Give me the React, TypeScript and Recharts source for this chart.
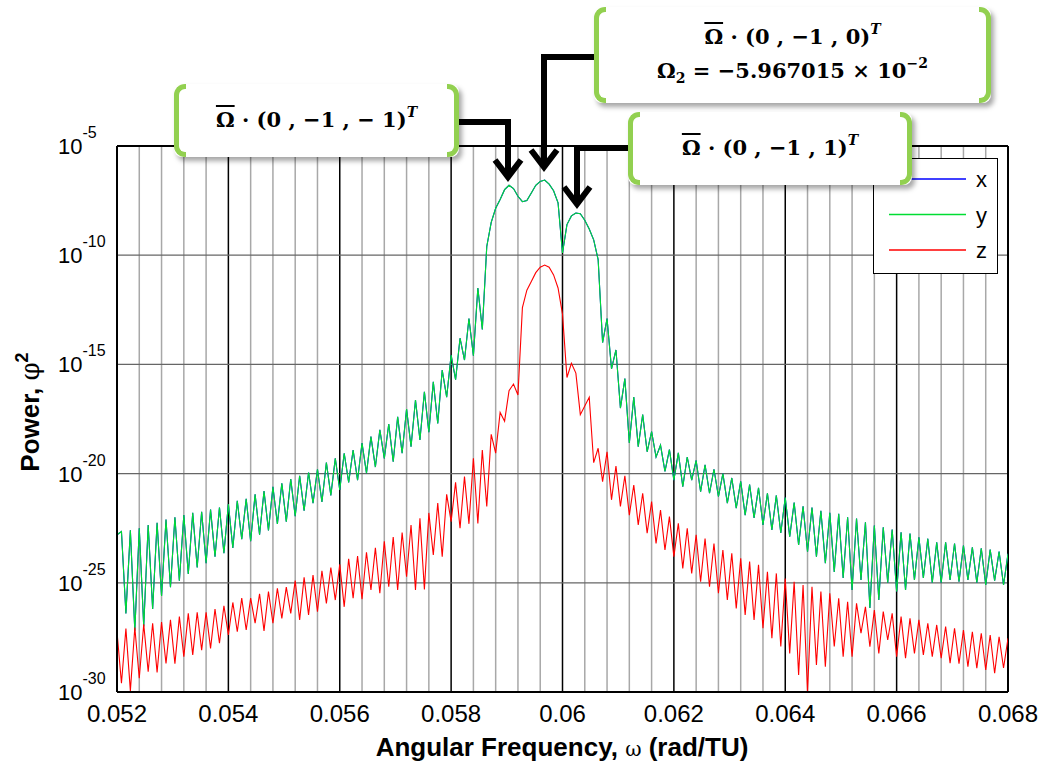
import React from 'react';
import { LineChart, Line, XAxis, YAxis, ReferenceLine } from 'recharts';

// Frequency grid (uniform FFT-like sampling, half an oscillation period per step)
const OMEGA_START = 0.052;
const OMEGA_STEP = 0.00008;

// log10(power), one value per grid step
const Y_LOG10 = [
  -22.8, -22.65, -26.4, -22.6, -27.2, -22.5, -27.0, -22.35, -26.2, -22.25,
  -25.6, -22.1, -25.2, -22.0, -24.9, -21.9, -24.6, -21.8, -24.3, -21.75,
  -24.1, -21.65, -23.8, -21.55, -23.65, -21.4, -23.4, -21.25, -23.0, -21.15,
  -23.1, -20.95, -22.8, -20.8, -22.6, -20.6, -22.3, -20.45, -22.2, -20.25,
  -21.95, -20.1, -21.7, -19.95, -21.35, -19.8, -21.3, -19.5, -21.0, -19.3,
  -20.75, -19.07, -20.4, -18.92, -20.3, -18.6, -19.98, -18.31, -19.7, -18.0,
  -19.3, -17.73, -19.45, -17.4, -19.07, -17.05, -18.77, -16.63, -18.46, -16.25,
  -18.1, -15.8, -17.7, -15.26, -16.5, -14.57, -15.7, -13.8, -14.8, -12.9,
  -14.6, -11.5, -13.4, -9.6, -8.5, -7.85, -7.45, -7.0, -6.8, -6.95,
  -7.3, -7.55, -7.5, -7.15, -6.8, -6.62, -6.56, -6.75, -7.05, -7.6,
  -9.9, -8.6, -8.2, -8.07, -8.1, -8.4, -8.8, -9.3, -10.2, -14.0,
  -12.9, -15.2, -14.34, -17.0, -15.65, -18.6, -16.5, -18.77, -17.3, -19.0,
  -18.08, -19.24, -18.7, -19.9, -18.9, -20.3, -19.05, -20.6, -19.24, -20.3,
  -19.4, -20.83, -19.6, -20.9, -19.8, -21.05, -20.0, -21.35, -20.2, -21.58,
  -20.35, -21.9, -20.5, -22.03, -20.65, -22.35, -20.9, -22.58, -21.0, -22.72,
  -21.1, -22.89, -21.33, -23.27, -21.5, -23.58, -21.55, -23.8, -21.7, -24.1,
  -21.8, -24.5, -21.84, -24.78, -22.0, -25.33, -22.06, -24.87, -22.23, -26.15,
  -22.38, -25.79, -22.46, -25.0, -22.56, -25.4, -22.69, -25.33, -22.75, -24.87,
  -22.92, -24.78, -22.98, -25.0, -23.15, -25.0, -23.15, -24.87, -23.2, -24.95,
  -23.3, -24.87, -23.38, -25.0, -23.42, -25.1, -23.48, -24.9, -23.57, -25.1,
  -23.67,
];

const Z_LOG10 = [
  -27.24, -29.6, -27.1, -29.95, -27.05, -29.37, -26.9, -29.07, -26.85, -29.1,
  -26.8, -28.69, -26.7, -28.7, -26.55, -28.38, -26.4, -28.3, -26.35, -28.08,
  -26.35, -28.0, -26.2, -27.77, -26.05, -27.39, -25.9, -27.24, -25.7, -27.16,
  -25.7, -26.85, -25.5, -27.2, -25.4, -26.85, -25.25, -26.63, -25.2, -26.4,
  -24.9, -26.7, -24.75, -26.47, -24.65, -26.32, -24.45, -25.94, -24.3, -25.79,
  -24.15, -26.1, -23.9, -25.71, -23.78, -25.75, -23.6, -25.33, -23.4, -25.48,
  -23.1, -25.18, -22.9, -25.33, -22.7, -24.72, -22.35, -25.33, -22.05, -25.3,
  -21.8, -23.73, -21.35, -23.8, -20.95, -22.2, -20.4, -22.5, -20.14, -22.3,
  -19.3, -22.28, -18.92, -21.5, -18.2, -19.06, -17.2, -17.6, -16.2, -15.9,
  -16.4, -12.4, -11.6, -11.2, -10.8, -10.55, -10.45, -10.55, -10.9, -11.5,
  -12.7, -15.6, -14.95, -15.4, -17.3, -16.9, -16.5, -19.5, -18.84, -20.37,
  -19.0, -21.2, -19.65, -21.5, -20.1, -21.9, -20.52, -22.35, -20.9, -22.73,
  -21.28, -23.2, -21.67, -23.5, -21.97, -23.8, -22.28, -24.34, -22.5, -24.57,
  -22.8, -24.95, -22.97, -25.18, -23.2, -25.48, -23.5, -25.79, -23.65, -26.17,
  -23.88, -26.47, -24.03, -26.7, -24.18, -27.08, -24.5, -27.54, -24.57, -27.92,
  -24.8, -28.23, -24.95, -29.22, -25.1, -30.0, -25.18, -28.76, -25.4, -28.84,
  -25.48, -27.92, -25.71, -28.38, -25.87, -28.38, -25.94, -27.31, -26.1, -27.92,
  -26.25, -28.23, -26.32, -27.62, -26.4, -28.38, -26.55, -28.45, -26.63, -28.23,
  -26.7, -28.3, -26.85, -28.38, -26.93, -28.45, -27.0, -28.68, -27.08, -28.7,
  -27.16, -28.84, -27.24, -28.91, -27.31, -28.99, -27.39, -29.14, -27.47, -28.9,
  -27.54,
];

// x coincides with y everywhere in the picture (blue is hidden under green)
const X_LOG10 = Y_LOG10;

const X_TICKS = [0.052, 0.054, 0.056, 0.058, 0.06, 0.062, 0.064, 0.066, 0.068];
const X_MINOR_GRID = [
  0.0524, 0.0528, 0.0532, 0.0536, 0.0544, 0.0548, 0.0552, 0.0556,
  0.0564, 0.0568, 0.0572, 0.0576, 0.0584, 0.0588, 0.0592, 0.0596,
  0.0604, 0.0608, 0.0612, 0.0616, 0.0624, 0.0628, 0.0632, 0.0636,
  0.0644, 0.0648, 0.0652, 0.0656, 0.0664, 0.0668, 0.0672, 0.0676,
];
const Y_TICKS = [1e-30, 1e-25, 1e-20, 1e-15, 1e-10, 1e-5];
const Y_GRID = [1e-25, 1e-20, 1e-15, 1e-10];

const SERIES = [
  { key: 'x', label: 'x', color: '#0000ff' },
  { key: 'y', label: 'y', color: '#00dd33' },
  { key: 'z', label: 'z', color: '#ff0000' },
];

const data = Y_LOG10.map((_, i) => ({
  w: Number((OMEGA_START + i * OMEGA_STEP).toFixed(5)),
  x: Math.pow(10, X_LOG10[i]),
  y: Math.pow(10, Y_LOG10[i]),
  z: Math.pow(10, Z_LOG10[i]),
}));

const SANS = "'Liberation Sans', Arial, sans-serif";
const MATH = "'DejaVu Serif', 'Liberation Serif', serif";

const XTick = (props: any) => {
  const { x, y, payload } = props;
  return (
    <text x={x} y={y} dy={22} textAnchor="middle" fontSize={24} fill="#000" fontFamily={SANS}>
      {String(Number(payload.value.toFixed(3)))}
    </text>
  );
};

const YTick = (props: any) => {
  const { x, y, payload } = props;
  const e = Math.round(Math.log10(payload.value));
  return (
    <text x={x - 51} y={y} fill="#000" fontFamily={SANS}>
      <tspan fontSize={22} dy={8}>10</tspan>
      <tspan fontSize={16} dy={-16}>{String(e)}</tspan>
    </text>
  );
};

const Bracket = ({ side }: { side: 'left' | 'right' }) => (
  <div
    style={{
      position: 'absolute',
      top: 0,
      bottom: 0,
      [side]: 0,
      width: 12,
      boxSizing: 'border-box',
      border: '5px solid #92d050',
      [side === 'left' ? 'borderRight' : 'borderLeft']: 'none',
      borderRadius: side === 'left' ? '11px 0 0 11px' : '0 11px 11px 0',
    } as React.CSSProperties}
  />
);

const Callout = ({ left, top, width, height, children }: any) => (
  <div
    style={{
      position: 'absolute',
      left,
      top,
      width,
      height,
      background: '#fff',
      borderRadius: 8,
      boxShadow: '3px 4px 5px rgba(0,0,0,0.35)',
      display: 'flex',
      flexDirection: 'column',
      alignItems: 'center',
      justifyContent: 'center',
      fontFamily: MATH,
      fontWeight: 'bold',
      fontSize: 21,
      lineHeight: '31px',
      color: '#000',
      whiteSpace: 'nowrap',
    }}
  >
    <Bracket side="left" />
    <Bracket side="right" />
    {children}
  </div>
);

const OmegaBar = () => (
  <span style={{ textDecoration: 'overline' }}>Ω</span>
);
const SupT = () => (
  <sup style={{ fontStyle: 'italic', fontSize: 14, verticalAlign: 0, position: 'relative', top: -10 }}>T</sup>
);

export default function App() {
  return (
    <div style={{ position: 'absolute', left: 0, top: 0, width: 1044, height: 767, background: '#fff', overflow: 'hidden' }}>
      <LineChart width={1044} height={767} data={data} margin={{ top: 146, right: 36, bottom: 45, left: 57 }}>
        <XAxis
          dataKey="w"
          type="number"
          domain={[0.052, 0.068]}
          ticks={X_TICKS}
          allowDataOverflow
          tick={<XTick />}
          tickLine={false}
          axisLine={{ stroke: '#000', strokeWidth: 2 }}
          height={30}
        />
        <YAxis
          type="number"
          scale="log"
          domain={[1e-30, 1e-5]}
          ticks={Y_TICKS}
          allowDataOverflow
          tick={<YTick />}
          tickLine={false}
          axisLine={{ stroke: '#000', strokeWidth: 2 }}
          width={60}
        />
        {X_MINOR_GRID.map((v) => (
          <ReferenceLine key={'mx' + v} x={v} stroke="#a8a8a8" strokeWidth={1.5} />
        ))}
        {X_TICKS.slice(1, -1).map((v) => (
          <ReferenceLine key={'Mx' + v} x={v} stroke="#000" strokeWidth={1.5} />
        ))}
        {Y_GRID.map((v) => (
          <ReferenceLine key={'gy' + v} y={v} stroke="#666" strokeWidth={1.2} />
        ))}
        <ReferenceLine y={1e-5} stroke="#000" strokeWidth={2} />
        <ReferenceLine x={0.068} stroke="#000" strokeWidth={2} />
        {SERIES.map((s) => (
          <Line
            key={s.key}
            dataKey={s.key}
            stroke={s.color}
            strokeWidth={1.1}
            dot={false}
            isAnimationActive={false}
            type="linear"
          />
        ))}
      </LineChart>

      {/* legend */}
      <div style={{ position: 'absolute', left: 873, top: 158, width: 125, height: 116, boxSizing: 'border-box', border: '1.5px solid #000', background: '#fff' }}>
        <svg width={122} height={113} style={{ position: 'absolute', left: 0, top: 0 }}>
          {SERIES.map((s, i) => (
            <g key={s.key}>
              <line x1={15} x2={92} y1={20 + i * 35.5} y2={20 + i * 35.5} stroke={s.color} strokeWidth={1.5} />
              <text x={102} y={28 + i * 35.5} fontSize={22} fontFamily={SANS} fill="#000">{s.label}</text>
            </g>
          ))}
        </svg>
      </div>

      {/* axis titles and arrows */}
      <svg width={1044} height={767} style={{ position: 'absolute', left: 0, top: 0 }}>
        <text x={562} y={756} textAnchor="middle" fontSize={26} fontWeight="bold" fontFamily={SANS} fill="#000">
          Angular Frequency, <tspan fontWeight="normal" fontSize={20} fontFamily="'DejaVu Serif', serif">ω</tspan> (rad/TU)
        </text>
        <text transform="translate(39,412) rotate(-90)" textAnchor="middle" fontSize={26} fontWeight="bold" fontFamily={SANS} fill="#000">
          Power, <tspan fontWeight="normal" fontFamily="'DejaVu Serif', serif">φ</tspan><tspan fontSize={18} dy={-11}>2</tspan>
        </text>
        <g fill="none" stroke="#000" strokeWidth={6} strokeLinejoin="miter">
          <polyline points="450,122 508,122 508,176" />
          <polyline points="495,160 508,177 521,160" />
          <polyline points="600,57 544,57 544,165" />
          <polyline points="531,150 544,167 557,150" />
          <polyline points="635,148 577,148 577,203" />
          <polyline points="564,187 577,204 590,187" />
        </g>
      </svg>

      <Callout left={174} top={84} width={285} height={73}>
        <div>
          <OmegaBar /> · (0 , −1 , − 1)<SupT />
        </div>
      </Callout>
      <Callout left={594} top={7} width={397} height={96}>
        <div>
          <OmegaBar /> · (0 , −1 , 0)<SupT />
        </div>
        <div>
          Ω<sub style={{ fontSize: 14, verticalAlign: 0, position: 'relative', top: 5 }}>2</sub> = −5.967015 × 10
          <sup style={{ fontSize: 14, verticalAlign: 0, position: 'relative', top: -10 }}>−2</sup>
        </div>
      </Callout>
      <Callout left={628} top={112} width={284} height={73}>
        <div>
          <OmegaBar /> · (0 , −1 , 1)<SupT />
        </div>
      </Callout>
    </div>
  );
}
